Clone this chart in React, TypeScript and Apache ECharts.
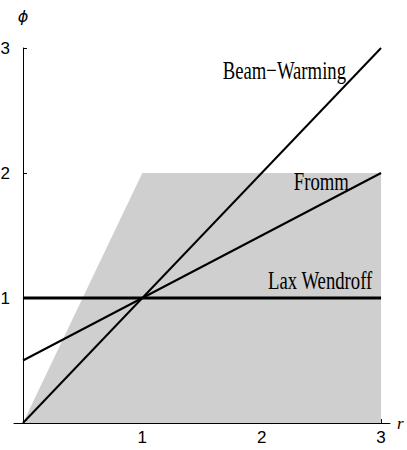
import React, { useEffect, useRef } from "react";
import * as echarts from "echarts";

// Flux-limiter diagram: TVD region and three classic limiters phi(r)
const tvdRegion: [number, number][] = [
  [0, 0],
  [1, 2],
  [3, 2],
];
const beamWarming: [number, number][] = [
  [0, 0],
  [3, 3],
];
const fromm: [number, number][] = [
  [0, 0.5],
  [3, 2],
];
const laxWendroff: [number, number][] = [
  [0, 1],
  [3, 1],
];
const xTicks = [1, 2, 3];
const yTicks = [1, 2, 3];

// Curve names and the data point each name is centred on
const curveNames = ["Beam\u2212Warming", "Fromm", "Lax Wendroff"];
const nameAnchors: [number, number][] = [
  [2.19, 2.82],
  [2.5, 1.93],
  [2.49, 1.14],
];

const tickFont = "'Liberation Sans', Arial, sans-serif";

export default function App() {
  const ref = useRef<HTMLDivElement>(null);

  useEffect(() => {
    if (!ref.current) return;
    const chart = echarts.init(ref.current, null, { renderer: "svg" });
    const lineStyle = (w: number) => ({ color: "#000", width: w });
    chart.setOption({
      animation: false,
      backgroundColor: "#fff",
      grid: {
        left: 14,
        right: 17,
        top: 48,
        bottom: 27,
        containLabel: false,
        outerBoundsMode: "none",
      },
      xAxis: {
        type: "value",
        min: -0.075,
        max: 3.075,
        splitLine: { show: false },
        axisLine: { onZero: true, lineStyle: { color: "#000", width: 1 } },
        axisTick: {
          show: true,
          inside: true,
          length: 4,
          customValues: xTicks,
          lineStyle: { color: "#000" },
        },
        axisLabel: {
          customValues: xTicks,
          color: "#000",
          fontFamily: tickFont,
          fontSize: 17,
          margin: 6,
        },
        name: "r",
        nameLocation: "end",
        nameGap: 7,
        nameTextStyle: { color: "#000", fontFamily: "'Liberation Serif', serif", fontSize: 17, fontStyle: "italic" },
      },
      yAxis: {
        type: "value",
        min: 0,
        max: 3,
        interval: 1,
        splitLine: { show: false },
        axisLine: { show: true, onZero: true, lineStyle: { color: "#000", width: 1 } },
        axisTick: {
          show: true,
          inside: true,
          length: 4,
          customValues: yTicks,
          lineStyle: { color: "#000" },
        },
        axisLabel: {
          customValues: yTicks,
          color: "#000",
          fontFamily: tickFont,
          fontSize: 17,
          margin: 4,
        },
        name: "\u03d5",
        nameLocation: "end",
        nameGap: 24,
        nameTextStyle: {
          color: "#000",
          fontFamily: "'DejaVu Sans', sans-serif",
          fontSize: 16,
          fontStyle: "italic",
          align: "center",
        },
      },
      series: [
        {
          type: "line",
          data: tvdRegion,
          symbol: "none",
          lineStyle: { width: 0 },
          areaStyle: { color: "#cfcfcf", opacity: 1 },
          z: 1,
        },
        { type: "line", data: beamWarming, symbol: "none", lineStyle: lineStyle(2), z: 3 },
        { type: "line", data: fromm, symbol: "none", lineStyle: lineStyle(2), z: 3 },
        { type: "line", data: laxWendroff, symbol: "none", lineStyle: lineStyle(3), z: 3 },
      ],
    });

    const graphic = curveNames.map((name, i) => {
      const [px, py] = chart.convertToPixel({ gridIndex: 0 }, nameAnchors[i]) as number[];
      return {
        type: "text",
        x: px,
        y: py,
        scaleX: 0.72,
        z: 10,
        style: {
          text: name,
          fill: "#000",
          font: "26px 'Liberation Serif', 'Times New Roman', serif",
          textAlign: "center",
          textVerticalAlign: "middle",
        },
      };
    });
    chart.setOption({ graphic });

    return () => chart.dispose();
  }, []);

  return <div ref={ref} style={{ width: 407, height: 450, position: "absolute", left: 0, top: 0 }} />;
}
